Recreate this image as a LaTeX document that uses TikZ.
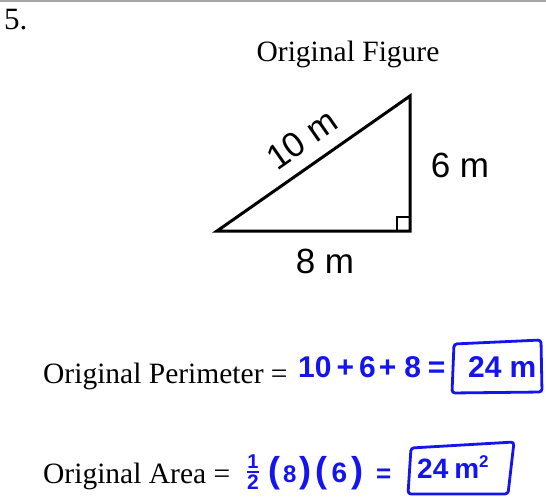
\documentclass[tikz,border=0pt]{standalone}
\usepackage{amsmath}
\usepackage{fontspec}
\setmainfont{Liberation Serif}
\newfontfamily\labelfont{Liberation Sans}
\newfontfamily\handfont{Liberation Sans}
\definecolor{handblue}{RGB}{20,20,240}
\newcommand{\hsz}[1]{\fontsize{#1}{#1}\selectfont}
\tikzset{
  typed/.style={anchor=base west, inner sep=0pt, font=\fontsize{29.5}{30}\selectfont},
  lbl/.style={inner sep=0pt, font=\labelfont\fontsize{35}{35}\selectfont},
  hand/.style={inner sep=0pt, text=handblue, font=\handfont\bfseries\fontsize{30}{30}\selectfont},
  handbox/.style={draw=handblue, line width=2.8pt, rounded corners=3pt},
  side/.style={line width=3pt, line join=miter}
}
\begin{document}
\begin{tikzpicture}[x=1pt,y=-1pt]
\useasboundingbox (0,0) rectangle (546,497);
\draw[gray!70, line width=2pt] (0,1.5) -- (546,1.5);
\node[typed, font=\fontsize{31}{31}\selectfont] (num) at (4,30) {5.};
\node[typed, anchor=base] (title) at (348,62) {Original Figure};
% triangle
\coordinate (A) at (217,231);
\coordinate (B) at (410,231);
\coordinate (C) at (410,96);
\draw[side] (A) -- (B) -- (C) -- cycle;
\coordinate (r1) at (397,231);
\coordinate (r2) at (397,217);
\coordinate (r3) at (410,217);
\draw[line width=2pt] (r1) -- (r2) -- (r3);
\node[lbl, rotate=35] (hyp) at (302,139) {10 m};
\node[lbl] (vert) at (460,165) {6 m};
\node[lbl] (base) at (325,261) {8 m};
% perimeter
\node[typed] (per) at (43,383) {Original Perimeter =};
\node[hand, anchor=base west] (perwork) at (298,377) {10\kern5pt+\kern5pt6\kern3pt+\kern8pt8\kern7pt=};
\coordinate (p1) at (454,344);
\coordinate (p2) at (541,340);
\coordinate (p3) at (542,392);
\coordinate (p4) at (452,393);
\draw[handbox] (p1) -- (p2) -- (p3) -- (p4) -- cycle;
\node[hand, anchor=base west] (perans) at (468,377) {24\kern8pt m};
% area
\node[typed] (area) at (43,483) {Original Area =};
\node[hand] (half) at (253,472) {\(\genfrac{}{}{2pt}{1}{\mbox{\handfont\bfseries\hsz{20}1}}{\mbox{\handfont\bfseries\hsz{21}2}}\)};
\node[hand, anchor=base west] (areawork) at (268,482) {\hsz{36}(\kern3pt\hsz{24}8\kern3pt\hsz{36})\kern4pt(\kern4pt\hsz{28}6\kern4pt\hsz{36})\kern13pt\hsz{26}=};
\coordinate (q1) at (411,448);
\coordinate (q2) at (514,442);
\coordinate (q3) at (508,494);
\coordinate (q4) at (408,494);
\draw[handbox] (q1) -- (q2) -- (q3) -- (q4) -- cycle;
\node[hand, anchor=base west, font=\handfont\bfseries\hsz{28}] (areaans) at (417,478) {24\kern6pt m\raisebox{11pt}{\hsz{17}2}};
\end{tikzpicture}
\end{document}
